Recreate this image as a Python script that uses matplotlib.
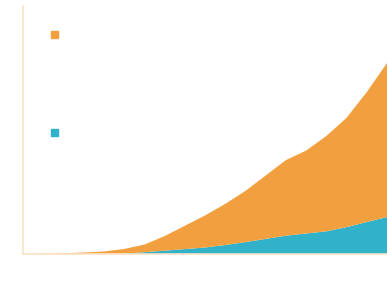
import numpy as np
import matplotlib.pyplot as plt
from matplotlib.patches import Rectangle

years = list(range(2000, 2019))
teal_vals = [0, 0, 0, 0.1, 0.3, 0.3, 1.8, 3.3, 4.9, 6.5, 9, 11.9, 15.1, 18.3, 20.5, 22.7, 26.9, 32, 37]
orange_vals = [0, 0.3, 0.7, 1.4, 2.2, 4.7, 7.6, 14.6, 23.3, 32, 41.1, 51.2, 63.4, 75.6, 82.9, 95.3, 109.3, 129.9, 154]

orange = '#F2A03F'
teal = '#31B2CA'

fig = plt.figure(figsize=(3.87, 2.85), dpi=100)
ax = fig.add_axes([23 / 387, 31 / 285, 364 / 387, 248 / 285])

x = np.arange(len(years))
ax.stackplot(x, teal_vals, orange_vals, colors=[teal, orange], linewidth=0)

ax.set_xlim(0, len(years) - 1)
ax.set_ylim(0, 248)
ax.set_xticks([])
ax.set_yticks([])
for s in ['top', 'right']:
    ax.spines[s].set_visible(False)
ax.spines['left'].set_color('#FCE3C6')
ax.spines['bottom'].set_color('#FCE3C6')
ax.spines['left'].set_linewidth(1.2)
ax.spines['bottom'].set_linewidth(1.2)

# legend markers (labels are white in the original)
for yy, c, lab in [(247, orange, 'Series 1'), (149, teal, 'Series 2')]:
    fig.patches.append(Rectangle((51 / 387, yy / 285), 7 / 387, 7 / 285,
                                 transform=fig.transFigure, color=c))
    fig.text(64 / 387, (yy + 3.5) / 285, lab, color='white', va='center', fontsize=9)

plt.savefig('out.png', dpi=100)
